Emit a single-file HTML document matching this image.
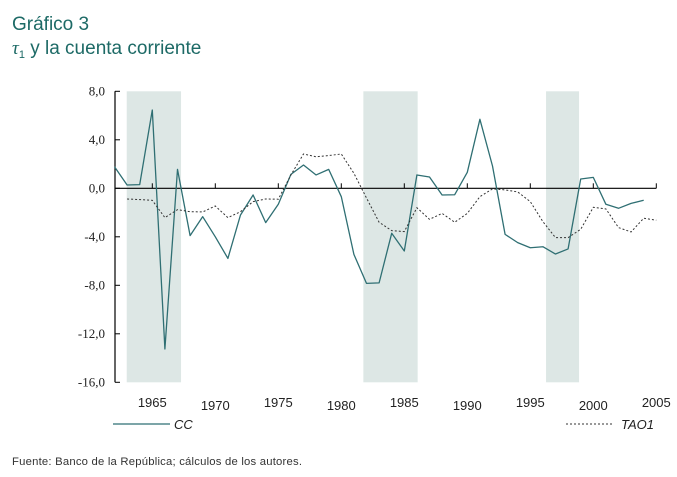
<!DOCTYPE html>
<html><head><meta charset="utf-8"><style>
html,body{margin:0;padding:0;background:#fff;}
svg{display:block;}
</style></head><body>
<svg id="chart" width="677" height="477" viewBox="0 0 677 477" xmlns="http://www.w3.org/2000/svg">
<text x="12" y="30" font-family="Liberation Sans, sans-serif" font-size="19" fill="#1d6a66">Gráfico 3</text>
<text x="12" y="54" font-family="Liberation Sans, sans-serif" font-size="19" fill="#1d6a66"><tspan font-style="italic" font-family="Liberation Serif, serif">τ</tspan><tspan font-size="11" dy="4">1</tspan><tspan dy="-4"> y la cuenta corriente</tspan></text>
<g id="shade"></g>
<g id="axes"></g>
<g id="series"></g>
<line x1="113" y1="424" x2="170" y2="424" stroke="#2f6f73" stroke-width="1.2"/>
<text x="174" y="429" font-family="Liberation Sans, sans-serif" font-style="italic" font-size="13" fill="#222">CC</text>
<line x1="566" y1="424" x2="613" y2="424" stroke="#333" stroke-width="1" stroke-dasharray="2,2"/>
<text x="621" y="429" font-family="Liberation Sans, sans-serif" font-style="italic" font-size="13" fill="#222">TAO1</text>
<text x="12" y="465" font-family="Liberation Sans, sans-serif" font-size="11.3" fill="#333" textLength="290">Fuente: Banco de la República; cálculos de los autores.</text>
</svg>
<script>
const yearsCC = [1962,1963,1964,1965,1966,1967,1968,1969,1970,1971,1972,1973,1974,1975,1976,1977,1978,1979,1980,1981,1982,1983,1984,1985,1986,1987,1988,1989,1990,1991,1992,1993,1994,1995,1996,1997,1998,1999,2000,2001,2002,2003,2004];
const ccValues = [1.78,0.27,0.3,6.46,-13.25,1.56,-3.9,-2.34,-4.0,-5.78,-2.2,-0.55,-2.83,-1.32,1.15,1.92,1.1,1.56,-0.69,-5.45,-7.84,-7.8,-3.71,-5.17,1.1,0.93,-0.55,-0.53,1.32,5.69,1.84,-3.8,-4.48,-4.9,-4.82,-5.42,-5.0,0.77,0.9,-1.32,-1.65,-1.24,-0.99];
const yearsTAO = [1963,1964,1965,1966,1967,1968,1969,1970,1971,1972,1973,1974,1975,1976,1977,1978,1979,1980,1981,1982,1983,1984,1985,1986,1987,1988,1989,1990,1991,1992,1993,1994,1995,1996,1997,1998,1999,2000,2001,2002,2003,2004,2005];
const taoValues = [-0.88,-0.93,-0.99,-2.42,-1.76,-1.93,-1.95,-1.46,-2.42,-1.93,-1.1,-0.88,-0.9,1.1,2.83,2.6,2.7,2.83,1.24,-0.8,-2.8,-3.49,-3.57,-1.6,-2.56,-2.07,-2.8,-2.07,-0.69,-0.05,-0.13,-0.3,-1.1,-2.75,-4.07,-4.07,-3.38,-1.57,-1.7,-3.24,-3.6,-2.47,-2.63];
const shadeStart = [1962.97,1981.75,1996.25];
const shadeEnd = [1967.28,1986.06,1998.87];
const yTicks = [8,4,0,-4,-8,-12,-16];
const yTickLabels = ["8,0","4,0","0,0","-4,0","-8,0","-12,0","-16,0"];
const xTicks = [1965,1970,1975,1980,1985,1990,1995,2000,2005];

const NS="http://www.w3.org/2000/svg";
const X = yr => 152.3 + (yr-1965)*12.6;
const Y = v => 188.3 - v*12.125;
function mk(tag, attrs, parent){const e=document.createElementNS(NS,tag);for(const k in attrs)e.setAttribute(k,attrs[k]);parent.appendChild(e);return e;}
const gS=document.getElementById('shade'), gA=document.getElementById('axes'), gL=document.getElementById('series');
shadeStart.forEach((s,i)=>{
  const r=mk('rect',{x:X(s),y:Y(8),width:X(shadeEnd[i])-X(s),height:Y(-16)-Y(8),fill:'#dde7e5'},gS);
  
  
});
const ax=mk('line',{x1:115,y1:Y(8),x2:115,y2:Y(-16),stroke:'#000','stroke-width':1.2},gA);


yTicks.forEach((v,i)=>{
  mk('line',{x1:115,y1:Y(v),x2:120,y2:Y(v),stroke:'#000','stroke-width':1},gA);
  const t=mk('text',{x:105,y:Y(v)+4,'text-anchor':'end','font-family':'Liberation Serif, serif','font-size':13,fill:'#222'},gA);
  t.textContent=yTickLabels[i];
  
  
});
const zl=mk('line',{x1:115,y1:Y(0),x2:X(2005),y2:Y(0),stroke:'#000','stroke-width':1.2},gA);


xTicks.forEach((yr,i)=>{
  mk('line',{x1:X(yr),y1:Y(0),x2:X(yr),y2:Y(0)-5,stroke:'#000','stroke-width':1},gA);
  const t=mk('text',{x:X(yr),y:(i%2===0)?407:410,'text-anchor':'middle','font-family':'Liberation Sans, sans-serif','font-size':13,fill:'#222'},gA);
  t.textContent=yr;
  
  
});
const cc=mk('polyline',{points:yearsCC.map((y,i)=>X(y)+','+Y(ccValues[i])).join(' '),fill:'none',stroke:'#2f6f73','stroke-width':1.3,'stroke-linejoin':'round'},gL);


const tao=mk('polyline',{points:yearsTAO.map((y,i)=>X(y)+','+Y(taoValues[i])).join(' '),fill:'none',stroke:'#333','stroke-width':1,'stroke-dasharray':'2,2'},gL);


</script>
</body></html>
